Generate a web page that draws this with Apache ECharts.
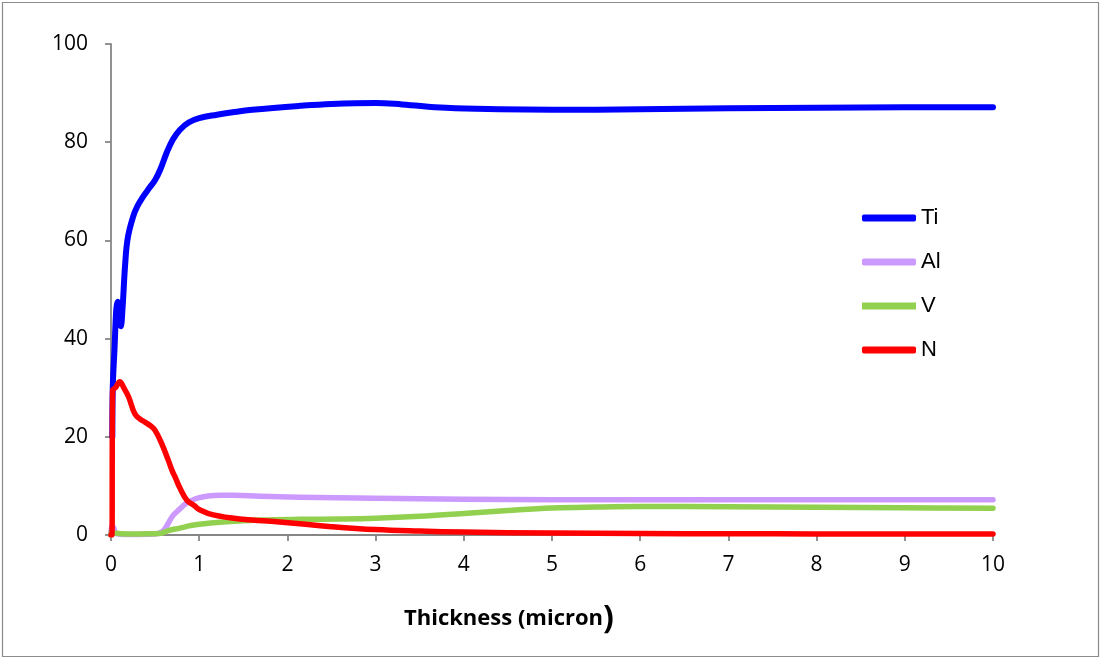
<!DOCTYPE html>
<html>
<head>
<meta charset="utf-8">
<script src="https://cdn.jsdelivr.net/npm/echarts@6/dist/echarts.min.js"></script>
<style>
  html, body { margin: 0; padding: 0; background: #fff; }
  #chart { width: 1101px; height: 659px; }
</style>
</head>
<body>
<div id="chart"></div>
<script>
// Depth profile: element concentration vs. thickness (micron)
const seriesNames = ['Ti', 'Al', 'V', 'N'];
const seriesColors = ['#0000FF', '#CC99FF', '#92D050', '#FF0000'];
const xTicks = [0, 1, 2, 3, 4, 5, 6, 7, 8, 9, 10];
const yTicks = [0, 20, 40, 60, 80, 100];
const xTitle = 'Thickness (micron';

// [thickness, concentration]
const ti = [
  [0.015, 20], [0.02, 30], [0.04, 38], [0.06, 46], [0.075, 47.5], [0.09, 44],
  [0.11, 42.5], [0.13, 46], [0.16, 55], [0.19, 60.5], [0.25, 64.8], [0.3, 67],
  [0.36, 68.8], [0.44, 70.8], [0.5, 72.3], [0.56, 74.5], [0.63, 77.8], [0.7, 80.5],
  [0.78, 82.5], [0.88, 84], [1.0, 84.9], [1.2, 85.6], [1.38, 86.1], [1.6, 86.6],
  [2.14, 87.4], [2.5, 87.8], [3.0, 88.0], [3.3, 87.7], [3.8, 87.0], [4.4, 86.7],
  [5, 86.6], [6, 86.7], [7, 86.9], [8, 87.0], [9, 87.1], [10, 87.1]
];
const al = [
  [0, 0], [0.01, 2], [0.03, 1.5], [0.06, 0.3], [0.2, 0.1], [0.5, 0.2], [0.55, 0.4],
  [0.6, 1.0], [0.65, 2.4], [0.7, 3.9], [0.78, 5.3], [0.85, 6.4], [0.92, 7.1], [1.0, 7.6],
  [1.1, 7.95], [1.24, 8.1], [1.4, 8.1], [1.69, 7.9], [2.14, 7.7], [3, 7.5], [4, 7.3],
  [5, 7.2], [6, 7.2], [7, 7.2], [8, 7.2], [9, 7.2], [10, 7.2]
];
const v = [
  [0, 0], [0.01, 0.8], [0.04, 0.4], [0.2, 0.2], [0.55, 0.3], [0.65, 0.9], [0.78, 1.4],
  [0.9, 1.9], [1.0, 2.2], [1.31, 2.7], [1.69, 3.05], [2.14, 3.2], [2.6, 3.25],
  [3, 3.4], [3.5, 3.8], [4, 4.4], [4.5, 5.0], [5, 5.5], [5.5, 5.7], [6, 5.8],
  [7, 5.75], [8, 5.65], [9, 5.55], [10, 5.45]
];
const n = [
  [0, 0], [0.01, 0], [0.018, 29.5], [0.05, 30], [0.1, 31.2], [0.15, 29.8], [0.2, 28.1],
  [0.27, 24.7], [0.33, 23.6], [0.385, 23], [0.45, 22.2], [0.5, 21.3], [0.575, 18.6],
  [0.65, 15.2], [0.7, 12.8], [0.725, 11.9], [0.78, 9.6], [0.86, 7.1], [0.95, 5.9],
  [1.0, 5.2], [1.16, 4.1], [1.5, 3.2], [1.88, 2.7], [2.14, 2.3], [2.5, 1.7], [3, 1.1],
  [3.5, 0.8], [4, 0.6], [5, 0.4], [6, 0.3], [7, 0.25], [8, 0.22], [9, 0.2], [10, 0.2]
];
const seriesData = [ti, al, v, n];
const lineWidths = [6, 5.5, 5.5, 5.5];

const axisGray = '#868686';
const font = '"Open Sans", "Liberation Sans", sans-serif';

const chart = echarts.init(document.getElementById('chart'), null, { renderer: 'canvas' });

chart.setOption({
  animation: false,
  backgroundColor: '#ffffff',
  graphic: [{
    type: 'rect',
    shape: { x: 2.5, y: 2.5, width: 1096, height: 654 },
    style: { fill: 'none', stroke: '#8c8c8c', lineWidth: 1.2 },
    silent: true
  }, {
    // x-axis title, closing parenthesis set larger
    type: 'text',
    left: 404,
    top: 603,
    style: {
      text: xTitle + '{p|)}',
      fontFamily: font, fontSize: 22, fontWeight: 'bold', fill: '#000',
      rich: { p: { fontFamily: font, fontSize: 32, fontWeight: 'bold', fill: '#000' } }
    },
    silent: true
  }],
  grid: { left: 111, right: 108, top: 44, bottom: 124 },
  legend: {
    orient: 'vertical',
    left: 857,
    top: 202,
    itemWidth: 54,
    itemHeight: 7,
    itemGap: 22,
    icon: 'roundRect',
    textStyle: { fontFamily: '"Liberation Sans", Arial, sans-serif', fontSize: 22, color: '#000' },
    data: seriesNames.map(name => name === 'V' ? { name, icon: 'rect' } : { name })
  },
  xAxis: {
    type: 'value',
    min: xTicks[0],
    max: xTicks[xTicks.length - 1],
    interval: 1,
    axisLine: { show: true, lineStyle: { color: axisGray, width: 1.8 } },
    axisTick: { show: true, length: 6, inside: false, lineStyle: { color: axisGray, width: 1.8 } },
    axisLabel: { margin: 20, fontFamily: font, fontSize: 21, color: '#000' },
    splitLine: { show: false }
  },
  yAxis: {
    type: 'value',
    min: yTicks[0],
    max: yTicks[yTicks.length - 1],
    interval: 20,
    axisLine: { show: true, lineStyle: { color: axisGray, width: 1.8 } },
    axisTick: { show: true, length: 6, inside: false, lineStyle: { color: axisGray, width: 1.8 } },
    axisLabel: { margin: 23, fontFamily: font, fontSize: 21, color: '#000' },
    splitLine: { show: false }
  },
  series: seriesNames.map((name, i) => ({
    name,
    type: 'line',
    data: seriesData[i],
    showSymbol: false,
    symbol: 'none',
    smooth: 0.4,
    lineStyle: { color: seriesColors[i], width: lineWidths[i], cap: 'round', join: 'round' },
    itemStyle: { color: seriesColors[i] },
    z: 2 + i
  }))
});
</script>
</body>
</html>
